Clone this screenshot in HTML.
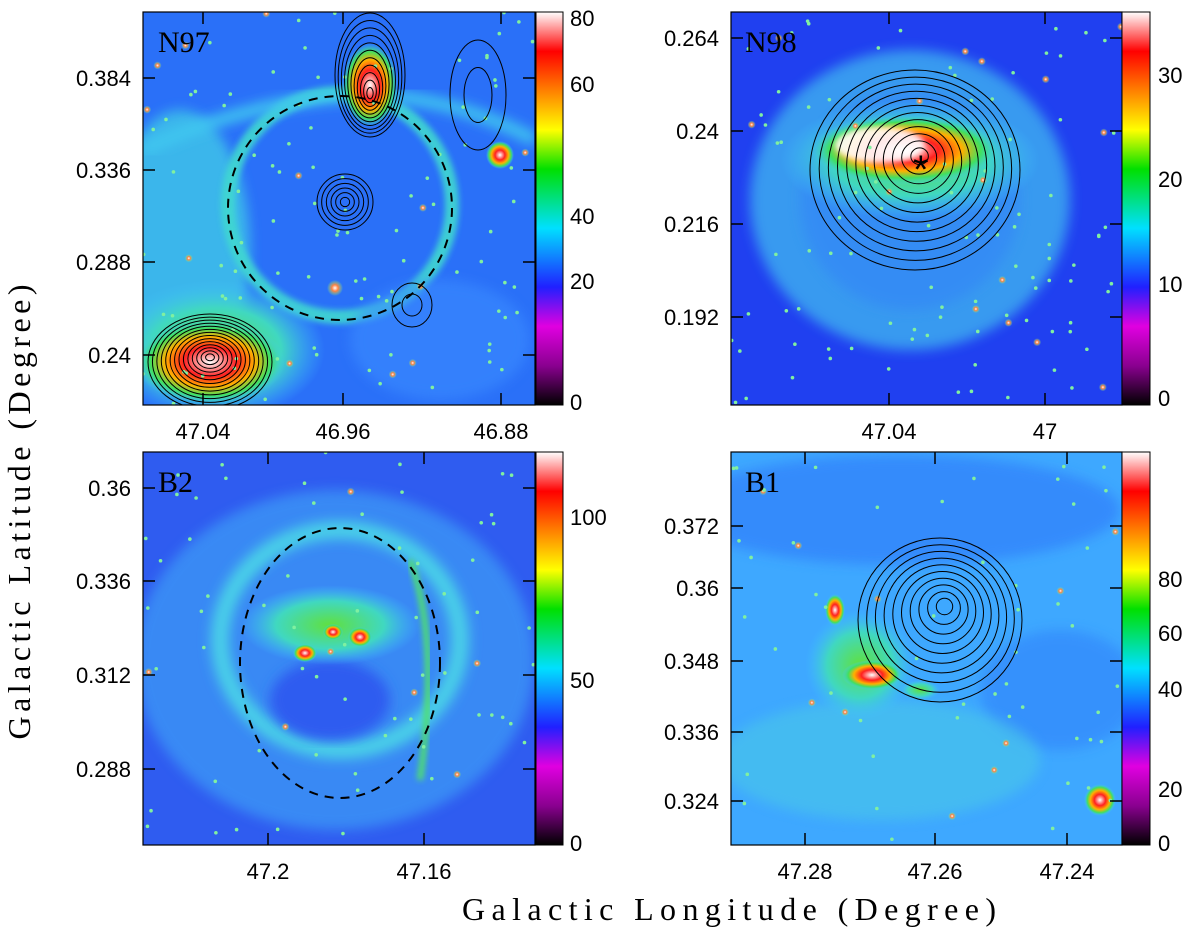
<!DOCTYPE html>
<html><head><meta charset="utf-8"><style>
html,body{margin:0;padding:0;background:#fff;width:1200px;height:934px;overflow:hidden}
svg text{font-family:"Liberation Sans",sans-serif;fill:#000}
</style></head><body>
<svg id="fig" width="1200" height="934" viewBox="0 0 1200 934" xmlns="http://www.w3.org/2000/svg">
<defs>
<linearGradient id="cbar" x1="0" y1="1" x2="0" y2="0">
<stop offset="0" stop-color="#000"/><stop offset="0.1" stop-color="#8a0090"/><stop offset="0.2" stop-color="#e000e0"/>
<stop offset="0.3" stop-color="#2020ff"/><stop offset="0.45" stop-color="#00e0ff"/><stop offset="0.6" stop-color="#00e000"/>
<stop offset="0.7" stop-color="#ffff00"/><stop offset="0.8" stop-color="#ff8000"/><stop offset="0.9" stop-color="#ff0000"/>
<stop offset="1" stop-color="#ffffff"/></linearGradient>
<radialGradient id="hot"><stop offset="0" stop-color="#fff"/><stop offset="0.35" stop-color="#ff2020"/><stop offset="0.6" stop-color="#ffb000"/><stop offset="0.8" stop-color="#40e060"/><stop offset="1" stop-color="#40c8ff" stop-opacity="0"/></radialGradient>
<radialGradient id="cyan"><stop offset="0" stop-color="#50e0d0"/><stop offset="1" stop-color="#40c0ff" stop-opacity="0"/></radialGradient>
<radialGradient id="green"><stop offset="0" stop-color="#60e040"/><stop offset="0.6" stop-color="#40d8c0"/><stop offset="1" stop-color="#40c0ff" stop-opacity="0"/></radialGradient>
<radialGradient id="star"><stop offset="0" stop-color="#fff"/><stop offset="0.4" stop-color="#ff8040"/><stop offset="1" stop-color="#80ff80" stop-opacity="0"/></radialGradient>
<filter id="blur"><feGaussianBlur stdDeviation="6"/></filter>
<filter id="blur2"><feGaussianBlur stdDeviation="3"/></filter>
<clipPath id="c1"><rect x="143" y="12" width="392" height="393"/></clipPath>
<clipPath id="c2"><rect x="731" y="12" width="391" height="393"/></clipPath>
<clipPath id="c3"><rect x="143" y="452" width="392" height="393"/></clipPath>
<clipPath id="c4"><rect x="731" y="452" width="391" height="393"/></clipPath>
</defs>

<g clip-path="url(#c1)">
<rect x="143" y="12" width="392" height="393" fill="#2a70f8"/>
<ellipse cx="180" cy="250" rx="70" ry="140" fill="#40c8e8" filter="url(#blur)" opacity="0.8"/>
<ellipse cx="340" cy="205" rx="112" ry="112" fill="none" stroke="#40d8d0" stroke-width="14" filter="url(#blur2)" opacity="0.9"/>
<path d="M143,150 Q250,100 360,95 Q450,95 535,140" fill="none" stroke="#40c8f0" stroke-width="12" filter="url(#blur)"/>
<ellipse cx="440" cy="340" rx="90" ry="60" fill="#3a8cff" filter="url(#blur)" opacity="0.6"/>
<ellipse cx="215" cy="350" rx="110" ry="70" fill="url(#green)"/>
<ellipse cx="210" cy="362" rx="75" ry="42" fill="url(#hot)"/>
<ellipse cx="370" cy="85" rx="28" ry="42" fill="url(#hot)"/>
<ellipse cx="500" cy="155" rx="14" ry="14" fill="url(#hot)"/>
<ellipse cx="335" cy="288" rx="8" ry="8" fill="url(#star)"/>
<g id="stars1"></g>
<ellipse cx="340" cy="208" rx="112" ry="112" fill="none" stroke="#000" stroke-width="2" stroke-dasharray="9,7"/>
<g id="cont1" fill="none" stroke="#000" stroke-width="1"></g>
</g>
<rect x="143" y="12" width="392" height="393" fill="none" stroke="#000" stroke-width="1.2"/>
<text x="158" y="52" font-size="30" style="font-family:'Liberation Serif',serif">N97</text>

<g clip-path="url(#c2)">
<rect x="731" y="12" width="391" height="393" fill="#2040f0"/>
<ellipse cx="910" cy="200" rx="160" ry="150" fill="#40b8f0" filter="url(#blur)" opacity="0.75"/>
<ellipse cx="910" cy="200" rx="110" ry="110" fill="#3080f8" filter="url(#blur)" opacity="0.5"/>
<ellipse cx="910" cy="160" rx="130" ry="60" fill="url(#green)"/>
<ellipse cx="905" cy="150" rx="95" ry="35" fill="url(#hot)"/>
<ellipse cx="880" cy="145" rx="45" ry="18" fill="#fff" opacity="0.9" filter="url(#blur2)"/>
<g id="stars2"></g>
<g id="cont2" fill="none" stroke="#000" stroke-width="1"></g>
<text x="913" y="183" font-size="40">*</text>
</g>
<rect x="731" y="12" width="391" height="393" fill="none" stroke="#000" stroke-width="1.2"/>
<text x="745" y="52" font-size="30" style="font-family:'Liberation Serif',serif">N98</text>

<g clip-path="url(#c3)">
<rect x="143" y="452" width="392" height="393" fill="#2f5cf0"/>
<ellipse cx="335" cy="660" rx="200" ry="170" fill="#40a8f8" filter="url(#blur)" opacity="0.6"/>
<ellipse cx="340" cy="640" rx="120" ry="110" fill="none" stroke="#48d0e8" stroke-width="18" filter="url(#blur)"/>
<ellipse cx="330" cy="700" rx="60" ry="40" fill="#2f5cf0" filter="url(#blur)"/>
<ellipse cx="330" cy="625" rx="90" ry="40" fill="url(#green)"/>
<path d="M410,560 Q440,640 420,780" fill="none" stroke="#50e070" stroke-width="6" filter="url(#blur2)"/>
<ellipse cx="305" cy="653" rx="12" ry="9" fill="url(#hot)"/>
<ellipse cx="360" cy="637" rx="12" ry="10" fill="url(#hot)"/>
<ellipse cx="333" cy="632" rx="10" ry="8" fill="url(#hot)"/>
<g id="stars3"></g>
<ellipse cx="340" cy="663" rx="100" ry="135" fill="none" stroke="#000" stroke-width="2" stroke-dasharray="9,7"/>
</g>
<rect x="143" y="452" width="392" height="393" fill="none" stroke="#000" stroke-width="1.2"/>
<text x="158" y="492" font-size="30" style="font-family:'Liberation Serif',serif">B2</text>

<g clip-path="url(#c4)">
<rect x="731" y="452" width="391" height="393" fill="#3ea8ff"/>
<ellipse cx="900" cy="510" rx="220" ry="55" fill="#2f78fa" filter="url(#blur)" opacity="0.6"/>
<ellipse cx="1060" cy="690" rx="80" ry="60" fill="#2f7cfa" filter="url(#blur)" opacity="0.5"/>
<ellipse cx="880" cy="760" rx="160" ry="60" fill="#48c8e8" filter="url(#blur)" opacity="0.6"/>
<ellipse cx="860" cy="665" rx="55" ry="55" fill="url(#green)"/>
<ellipse cx="872" cy="675" rx="30" ry="15" fill="url(#hot)"/>
<ellipse cx="835" cy="610" rx="10" ry="16" fill="url(#hot)"/>
<ellipse cx="920" cy="690" rx="20" ry="10" fill="url(#green)"/>
<ellipse cx="1100" cy="800" rx="16" ry="16" fill="url(#hot)"/>
<g id="stars4"></g>
<g id="cont4" fill="none" stroke="#000" stroke-width="1"></g>
</g>
<rect x="731" y="452" width="391" height="393" fill="none" stroke="#000" stroke-width="1.2"/>
<text x="745" y="492" font-size="30" style="font-family:'Liberation Serif',serif">B1</text>

<rect x="536" y="12" width="27" height="393" fill="url(#cbar)" stroke="#000"/>
<rect x="1122" y="12" width="28" height="393" fill="url(#cbar)" stroke="#000"/>
<rect x="536" y="452" width="27" height="393" fill="url(#cbar)" stroke="#000"/>
<rect x="1122" y="452" width="28" height="393" fill="url(#cbar)" stroke="#000"/>

<g id="ticks" font-size="22"></g>
<text font-size="32" transform="translate(30,512) rotate(-90)" text-anchor="middle" textLength="455" lengthAdjust="spacing" style="font-family:'Liberation Serif',serif"><tspan x="0" textLength="455" lengthAdjust="spacing">Galactic Latitude (Degree)</tspan></text>
<text x="462" y="920" font-size="32" textLength="534" lengthAdjust="spacing" style="font-family:'Liberation Serif',serif">Galactic Longitude (Degree)</text>
</svg>
<script>
const ns="http://www.w3.org/2000/svg";
const p1YLabels=["0.384","0.336","0.288","0.24"];
const p1YPos=[78,170,262,355];
const p1XLabels=["47.04","46.96","46.88"];
const p1XPos=[203,343,501];
const p2YLabels=["0.264","0.24","0.216","0.192"];
const p2YPos=[38,131,224,317];
const p2XLabels=["47.04","47"];
const p2XPos=[889,1045];
const p3YLabels=["0.36","0.336","0.312","0.288"];
const p3YPos=[488,581,675,769];
const p3XLabels=["47.2","47.16"];
const p3XPos=[268,424];
const p4YLabels=["0.372","0.36","0.348","0.336","0.324"];
const p4YPos=[526,588,661,732,801];
const p4XLabels=["47.28","47.26","47.24"];
const p4XPos=[805,935,1067];
const cb1Labels=["80","60","40","20","0"];const cb1Pos=[18,84,216,281,402];
const cb2Labels=["30","20","10","0"];const cb2Pos=[75,179,284,398];
const cb3Labels=["100","50","0"];const cb3Pos=[517,680,843];
const cb4Labels=["80","60","40","20","0"];const cb4Pos=[579,633,689,789,843];
const g=document.getElementById('ticks');
function txt(x,y,s,anchor,name){
  const t=document.createElementNS(ns,'text');
  t.setAttribute('x',x);t.setAttribute('y',y);t.setAttribute('text-anchor',anchor);
  
  
  t.textContent=s;g.appendChild(t);
}
function line(x1,y1,x2,y2){
  const l=document.createElementNS(ns,'line');
  l.setAttribute('x1',x1);l.setAttribute('y1',y1);l.setAttribute('x2',x2);l.setAttribute('y2',y2);
  l.setAttribute('stroke','#000');l.setAttribute('stroke-width','1.5');
  
  
  g.appendChild(l);
}
function panel(x0,x1,y0,y1,yl,yp,xl,xp){
  yl.forEach((s,i)=>{txt(x0-12,yp[i]+8,s,'end','y-tick-label');line(x0,yp[i],x0+12,yp[i]);line(x1,yp[i],x1-12,yp[i]);});
  xl.forEach((s,i)=>{txt(xp[i],y1+34,s,'middle','x-tick-label');line(xp[i],y1,xp[i],y1-12);line(xp[i],y0,xp[i],y0+12);});
}
panel(143,535,12,405,p1YLabels,p1YPos,p1XLabels,p1XPos);
panel(731,1122,12,405,p2YLabels,p2YPos,p2XLabels,p2XPos);
panel(143,535,452,845,p3YLabels,p3YPos,p3XLabels,p3XPos);
panel(731,1122,452,845,p4YLabels,p4YPos,p4XLabels,p4XPos);
function cb(x,l,p){l.forEach((s,i)=>{txt(x,p[i]+8,s,'start','colorbar-label');});}
cb(570,cb1Labels,cb1Pos);cb(1158,cb2Labels,cb2Pos);cb(570,cb3Labels,cb3Pos);cb(1158,cb4Labels,cb4Pos);
function rings(id,cx,cy,rx,ry,n,dx,dy){
  const c=document.getElementById(id);
  for(let i=0;i<n;i++){const e=document.createElementNS(ns,'ellipse');
    const f=(i+1)/n;e.setAttribute('cx',cx+dx*(1-f));e.setAttribute('cy',cy+dy*(1-f));
    e.setAttribute('rx',rx*f);e.setAttribute('ry',ry*f);
    
    
    c.appendChild(e);}
}
rings('cont1',370,75,35,62,11,0,20);
rings('cont1',210,362,62,48,14,0,-5);
rings('cont1',345,202,28,28,6,0,0);
rings('cont1',478,95,28,55,2,0,0);
rings('cont1',412,305,20,22,2,0,0);
rings('cont2',915,170,105,100,12,5,-15);
rings('cont4',940,620,82,82,10,5,-15);
let seed=7;function rnd(){seed=(seed*16807)%2147483647;return seed/2147483647;}
function stars(id,x0,y0,n){
  const c=document.getElementById(id);
  for(let i=0;i<n;i++){const e=document.createElementNS(ns,'circle');
    e.setAttribute('cx',x0+rnd()*392);e.setAttribute('cy',y0+rnd()*393);
    const big=rnd()<0.12;e.setAttribute('r',big?4:1.8);
    e.setAttribute('fill',big?'url(#star)':'#80f0a0');
    
    
    c.appendChild(e);}
}
stars('stars1',143,12,110);stars('stars2',731,12,110);stars('stars3',143,452,70);stars('stars4',731,452,60);
</script>
</body></html>
